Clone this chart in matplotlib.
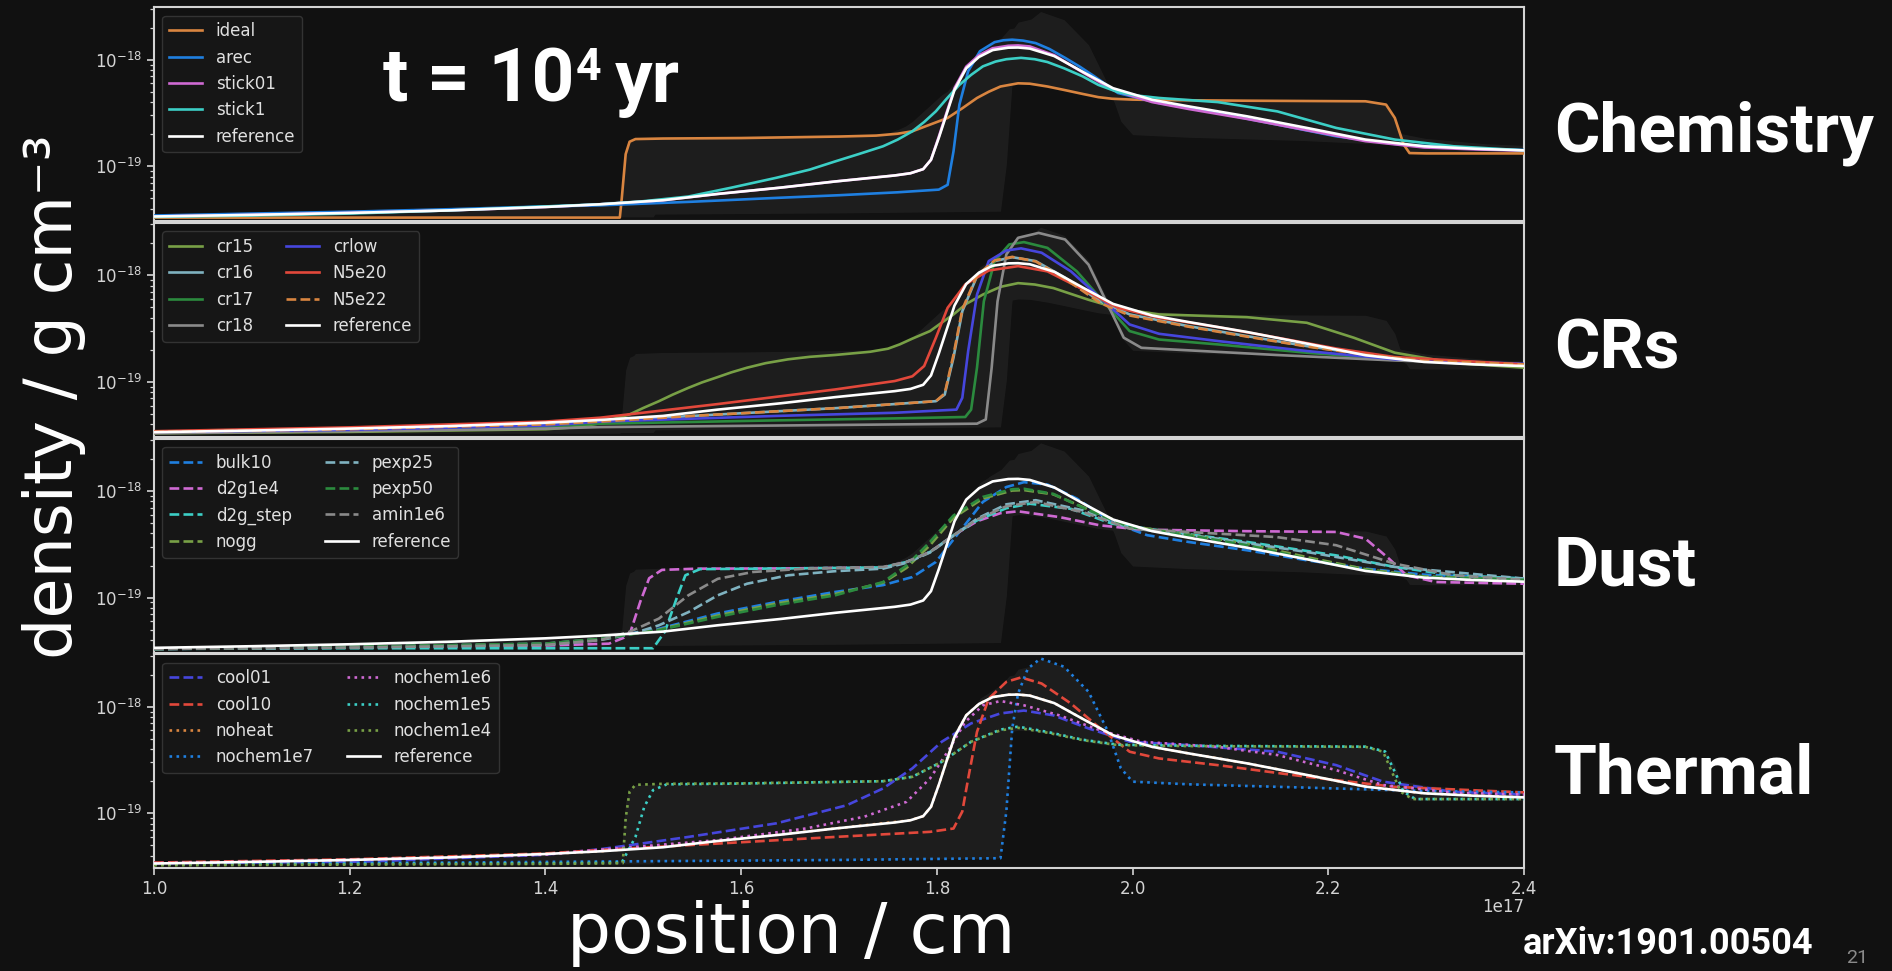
import numpy as np
import matplotlib
matplotlib.use('Agg')
import matplotlib.pyplot as plt
from matplotlib.ticker import FuncFormatter, NullFormatter

RHO = 1e-19   # density unit of the tables (g cm^-3)
POS = 1e17    # position unit of the tables (cm)

# (position, density) pairs, t = 1e4 yr

# chemistry runs
ideal = [(1.0, 0.33), (1.2, 0.33), (1.4, 0.33), (1.476, 0.33), (1.478, 0.5), (1.482, 1.3),
         (1.486, 1.7), (1.492, 1.80), (1.52, 1.82), (1.6, 1.84), (1.70, 1.90), (1.738, 1.94),
         (1.76, 2.02), (1.775, 2.13), (1.79, 2.4), (1.811, 2.84), (1.826, 3.5), (1.841, 4.37),
         (1.853, 5.0), (1.865, 5.6), (1.883, 6.0), (1.895, 5.95), (1.913, 5.6), (1.93, 5.2),
         (1.949, 4.77), (1.965, 4.45), (1.979, 4.3), (2.0, 4.22), (2.027, 4.18), (2.117, 4.12),
         (2.238, 4.07), (2.259, 3.79), (2.268, 2.84), (2.277, 1.6), (2.283, 1.33), (2.3, 1.32),
         (2.4, 1.32)]
arec = [(1.0, 0.345), (1.1, 0.36), (1.2, 0.375), (1.3, 0.395), (1.4, 0.42), (1.456, 0.43),
        (1.55, 0.465), (1.636, 0.505), (1.70, 0.535), (1.76, 0.57), (1.802, 0.604), (1.811, 0.67),
        (1.817, 1.38), (1.823, 3.78), (1.832, 7.8), (1.844, 12.0), (1.859, 14.6), (1.868, 15.2),
        (1.877, 15.4), (1.888, 15.1), (1.901, 14.3), (1.915, 12.6), (1.931, 10.4), (1.946, 8.6),
        (1.961, 6.97), (1.985, 4.87), (2.027, 3.92), (2.087, 3.16), (2.148, 2.46), (2.208, 1.91),
        (2.268, 1.62), (2.328, 1.49), (2.4, 1.42)]
stick01 = [(1.0, 0.338), (1.1, 0.35), (1.2, 0.365), (1.3, 0.385), (1.4, 0.415), (1.456, 0.44),
           (1.52, 0.48), (1.576, 0.55), (1.64, 0.63), (1.696, 0.72), (1.757, 0.82), (1.773, 0.86),
           (1.786, 0.94), (1.794, 1.15), (1.802, 1.9), (1.81, 3.2), (1.818, 5.4), (1.83, 8.6),
           (1.843, 11.0), (1.857, 12.8), (1.873, 13.5), (1.883, 13.6), (1.895, 13.3), (1.92, 11.0),
           (1.95, 7.5), (1.98, 5.2), (2.02, 4.0), (2.057, 3.45), (2.117, 2.78), (2.178, 2.18),
           (2.238, 1.72), (2.298, 1.5), (2.35, 1.44), (2.4, 1.40)]
stick1 = [(1.0, 0.335), (1.1, 0.345), (1.2, 0.36), (1.3, 0.385), (1.4, 0.42), (1.456, 0.44),
          (1.5, 0.47), (1.546, 0.52), (1.59, 0.63), (1.636, 0.78), (1.67, 0.93), (1.696, 1.11),
          (1.72, 1.3), (1.745, 1.54), (1.76, 1.78), (1.775, 2.13), (1.787, 2.6), (1.799, 3.28),
          (1.81, 4.3), (1.823, 5.8), (1.835, 7.2), (1.847, 8.65), (1.86, 9.6), (1.871, 10.1),
          (1.886, 10.4), (1.9, 10.1), (1.913, 9.5), (1.93, 8.3), (1.949, 6.97), (1.965, 5.8),
          (1.985, 4.97), (2.005, 4.6), (2.027, 4.37), (2.087, 4.0), (2.148, 3.27), (2.208, 2.29),
          (2.268, 1.78), (2.328, 1.54), (2.4, 1.41)]
reference = [(1.0, 0.338), (1.1, 0.35), (1.2, 0.365), (1.3, 0.385), (1.4, 0.415), (1.456, 0.44),
             (1.52, 0.48), (1.576, 0.55), (1.64, 0.63), (1.696, 0.72), (1.757, 0.82), (1.773, 0.86),
             (1.786, 0.94), (1.794, 1.15), (1.802, 1.85), (1.81, 3.1), (1.818, 5.2), (1.83, 8.3),
             (1.843, 10.6), (1.857, 12.3), (1.873, 12.95), (1.883, 13.0), (1.895, 12.7), (1.92, 10.8),
             (1.95, 7.6), (1.98, 5.4), (2.02, 4.2), (2.057, 3.65), (2.117, 2.94), (2.178, 2.29),
             (2.238, 1.78), (2.298, 1.54), (2.35, 1.46), (2.4, 1.41)]

# cosmic-ray runs
cr15 = [(1.0, 0.33), (1.2, 0.34), (1.4, 0.36), (1.43, 0.375), (1.456, 0.41), (1.47, 0.45),
        (1.486, 0.496), (1.50, 0.57), (1.516, 0.66), (1.53, 0.76), (1.546, 0.88), (1.56, 0.99),
        (1.576, 1.11), (1.59, 1.23), (1.606, 1.36), (1.625, 1.50), (1.648, 1.63), (1.67, 1.72),
        (1.696, 1.79), (1.732, 1.92), (1.75, 2.05), (1.762, 2.25), (1.775, 2.55), (1.793, 3.0),
        (1.805, 3.6), (1.817, 4.3), (1.83, 5.4), (1.847, 6.6), (1.865, 7.8), (1.883, 8.45),
        (1.90, 8.2), (1.919, 7.6), (1.955, 5.9), (1.985, 4.9), (2.027, 4.3), (2.117, 4.05),
        (2.178, 3.59), (2.226, 2.6), (2.268, 1.88), (2.328, 1.51), (2.4, 1.36)]
cr16 = [(1.0, 0.34), (1.2, 0.36), (1.4, 0.40), (1.456, 0.425), (1.55, 0.48), (1.636, 0.53),
        (1.70, 0.57), (1.757, 0.62), (1.799, 0.66), (1.808, 0.76), (1.817, 1.69), (1.826, 4.6),
        (1.841, 9.8), (1.859, 13.6), (1.877, 14.8), (1.901, 13.6), (1.931, 9.5), (1.967, 5.7),
        (1.997, 4.3), (2.057, 3.34), (2.117, 2.69), (2.178, 2.17), (2.238, 1.81), (2.298, 1.59),
        (2.4, 1.46)]
cr17 = [(1.0, 0.335), (1.2, 0.35), (1.4, 0.38), (1.456, 0.406), (1.636, 0.436), (1.757, 0.455),
        (1.829, 0.469), (1.835, 0.55), (1.841, 1.36), (1.848, 5.7), (1.859, 13.6), (1.874, 19.5),
        (1.889, 20.5), (1.913, 18.1), (1.943, 10.9), (1.973, 5.3), (1.997, 3.0), (2.027, 2.5),
        (2.087, 2.25), (2.178, 1.88), (2.268, 1.63), (2.4, 1.46)]
cr18 = [(1.0, 0.33), (1.2, 0.345), (1.4, 0.365), (1.456, 0.377), (1.636, 0.39), (1.841, 0.406),
        (1.85, 0.445), (1.856, 1.36), (1.862, 5.7), (1.871, 15.7), (1.883, 22.5), (1.904, 25.0),
        (1.931, 21.7), (1.955, 12.6), (1.973, 5.7), (1.991, 2.6), (2.009, 2.09), (2.057, 1.98),
        (2.147, 1.79), (2.268, 1.59), (2.4, 1.46)]
crlow = [(1.0, 0.34), (1.2, 0.355), (1.4, 0.39), (1.456, 0.424), (1.636, 0.48), (1.757, 0.514),
         (1.82, 0.55), (1.826, 0.71), (1.832, 1.95), (1.841, 6.6), (1.853, 13.6), (1.871, 17.1),
         (1.886, 17.9), (1.907, 16.3), (1.937, 10.9), (1.967, 6.15), (1.997, 3.46), (2.027, 2.83),
         (2.087, 2.42), (2.178, 1.95), (2.268, 1.63), (2.4, 1.48)]
N5e20 = [(1.0, 0.345), (1.2, 0.375), (1.4, 0.425), (1.456, 0.462), (1.576, 0.62), (1.696, 0.85),
         (1.757, 1.02), (1.775, 1.13), (1.787, 1.41), (1.799, 2.6), (1.811, 4.96), (1.829, 8.2),
         (1.853, 11.1), (1.883, 12.2), (1.913, 10.9), (1.949, 7.4), (1.985, 4.96), (2.027, 4.0),
         (2.087, 3.27), (2.148, 2.6), (2.208, 2.06), (2.268, 1.71), (2.4, 1.46)]
N5e22 = [(1.0, 0.34), (1.2, 0.36), (1.4, 0.40), (1.456, 0.425), (1.55, 0.48), (1.636, 0.53),
         (1.70, 0.57), (1.757, 0.62), (1.799, 0.66), (1.808, 0.78), (1.817, 1.8), (1.826, 4.8),
         (1.841, 10.0), (1.859, 13.8), (1.877, 14.9), (1.901, 13.5), (1.931, 9.3), (1.967, 5.5),
         (1.997, 4.2), (2.057, 3.3), (2.117, 2.66), (2.178, 2.15), (2.238, 1.8), (2.298, 1.58),
         (2.4, 1.46)]

# dust runs
bulk10 = [(1.0, 0.33), (1.2, 0.345), (1.4, 0.37), (1.456, 0.41), (1.48, 0.45), (1.516, 0.51),
          (1.576, 0.71), (1.636, 0.91), (1.696, 1.13), (1.745, 1.31), (1.775, 1.56), (1.799, 2.16),
          (1.823, 4.13), (1.847, 7.9), (1.871, 10.9), (1.889, 12.1), (1.913, 11.5), (1.943, 8.5),
          (1.979, 5.1), (2.015, 3.85), (2.057, 3.33), (2.117, 2.78), (2.178, 2.24), (2.238, 1.87),
          (2.298, 1.64), (2.4, 1.51)]
d2g1e4 = [(1.0, 0.33), (1.2, 0.34), (1.4, 0.355), (1.465, 0.37), (1.48, 0.42), (1.487, 0.48),
          (1.497, 0.92), (1.506, 1.52), (1.519, 1.82), (1.556, 1.87), (1.65, 1.88), (1.745, 1.92),
          (1.769, 2.16), (1.793, 2.68), (1.817, 3.84), (1.841, 5.2), (1.865, 6.2), (1.883, 6.45),
          (1.925, 5.7), (1.967, 4.76), (2.009, 4.34), (2.117, 4.2), (2.208, 4.13), (2.238, 3.57),
          (2.262, 2.32), (2.28, 1.62), (2.31, 1.4), (2.4, 1.35)]
d2g_step = [(1.0, 0.33), (1.2, 0.335), (1.4, 0.335), (1.51, 0.335), (1.522, 0.478), (1.534, 0.98),
            (1.543, 1.62), (1.558, 1.85), (1.65, 1.88), (1.745, 1.92), (1.769, 2.16), (1.793, 2.68),
            (1.817, 3.84), (1.841, 5.3), (1.871, 6.9), (1.895, 7.6), (1.937, 6.8), (1.979, 4.94),
            (2.027, 4.28), (2.117, 3.33), (2.208, 2.49), (2.268, 1.94), (2.328, 1.62), (2.4, 1.51)]
nogg = [(1.0, 0.33), (1.2, 0.345), (1.4, 0.37), (1.456, 0.41), (1.516, 0.50), (1.576, 0.68),
        (1.636, 0.88), (1.696, 1.08), (1.745, 1.38), (1.769, 1.9), (1.793, 3.1), (1.817, 5.6),
        (1.847, 8.5), (1.877, 10.1), (1.889, 10.2), (1.919, 9.3), (1.955, 6.7), (1.997, 4.7),
        (2.057, 3.9), (2.117, 3.2), (2.178, 2.4), (2.238, 1.85), (2.298, 1.58), (2.4, 1.48)]
pexp25 = [(1.0, 0.33), (1.2, 0.34), (1.4, 0.36), (1.456, 0.40), (1.486, 0.45), (1.516, 0.55),
          (1.546, 0.73), (1.576, 1.05), (1.606, 1.35), (1.648, 1.62), (1.696, 1.77), (1.745, 1.87),
          (1.769, 2.12), (1.793, 2.65), (1.817, 3.8), (1.841, 5.5), (1.871, 7.5), (1.901, 8.2),
          (1.949, 6.6), (1.997, 4.5), (2.087, 3.57), (2.178, 2.68), (2.268, 1.94), (2.4, 1.51)]
pexp50 = [(1.0, 0.33), (1.2, 0.345), (1.4, 0.37), (1.456, 0.41), (1.516, 0.495), (1.576, 0.66),
          (1.636, 0.85), (1.696, 1.05), (1.745, 1.4), (1.769, 2.0), (1.793, 3.33), (1.817, 5.9),
          (1.847, 8.8), (1.877, 10.4), (1.889, 10.5), (1.919, 9.4), (1.955, 6.6), (1.997, 4.6),
          (2.057, 3.85), (2.117, 3.1), (2.178, 2.32), (2.238, 1.81), (2.298, 1.56), (2.4, 1.47)]
amin1e6 = [(1.0, 0.33), (1.2, 0.34), (1.4, 0.36), (1.456, 0.40), (1.486, 0.478), (1.516, 0.636),
           (1.546, 1.05), (1.576, 1.5), (1.612, 1.74), (1.666, 1.87), (1.745, 1.94), (1.769, 2.16),
           (1.793, 2.68), (1.817, 3.84), (1.841, 5.4), (1.871, 7.2), (1.901, 7.9), (1.949, 6.35),
           (1.997, 4.43), (2.057, 4.13), (2.147, 3.7), (2.208, 3.1), (2.268, 2.08), (2.328, 1.62),
           (2.4, 1.47)]

# thermal runs
cool01 = [(1.0, 0.34), (1.214, 0.352), (1.396, 0.407), (1.456, 0.46), (1.488, 0.505), (1.546, 0.60),
          (1.636, 0.805), (1.708, 1.19), (1.745, 1.71), (1.775, 2.64), (1.805, 4.69), (1.835, 6.97),
          (1.865, 8.65), (1.889, 9.2), (1.919, 8.3), (1.955, 6.25), (1.997, 4.69), (2.057, 4.36),
          (2.148, 3.78), (2.208, 2.83), (2.256, 1.98), (2.328, 1.59), (2.4, 1.5)]
cool10 = [(1.0, 0.345), (1.2, 0.37), (1.4, 0.42), (1.456, 0.453), (1.576, 0.52), (1.696, 0.60),
          (1.793, 0.67), (1.817, 0.72), (1.826, 1.04), (1.832, 2.12), (1.841, 5.8), (1.853, 11.9),
          (1.871, 17.1), (1.886, 18.8), (1.907, 16.5), (1.937, 10.7), (1.967, 6.25), (1.997, 3.78),
          (2.027, 3.27), (2.087, 2.83), (2.178, 2.2), (2.268, 1.77), (2.4, 1.57)]
noheat = [(1.0, 0.338), (1.2, 0.365), (1.4, 0.415), (1.456, 0.44), (1.576, 0.55), (1.696, 0.72),
          (1.773, 0.86), (1.786, 0.94), (1.794, 1.15), (1.802, 1.85), (1.81, 3.1), (1.818, 5.2),
          (1.83, 8.3), (1.843, 10.6), (1.857, 12.3), (1.873, 12.95), (1.883, 13.0), (1.895, 12.7),
          (1.92, 10.8), (1.95, 7.6), (1.98, 5.4), (2.02, 4.2), (2.057, 3.65), (2.117, 2.94),
          (2.178, 2.29), (2.238, 1.78), (2.298, 1.54), (2.4, 1.41)]
nochem1e7 = [(1.0, 0.335), (1.3, 0.345), (1.5, 0.355), (1.7, 0.365), (1.865, 0.379), (1.871, 1.04),
             (1.877, 6.25), (1.883, 13.3), (1.893, 22.8), (1.906, 28.3), (1.93, 23.7), (1.955, 13.8),
             (1.975, 5.8), (1.988, 2.64), (2.0, 1.98), (2.057, 1.87), (2.178, 1.74), (2.298, 1.62),
             (2.4, 1.57)]
nochem1e6 = [(1.0, 0.34), (1.2, 0.365), (1.4, 0.41), (1.456, 0.455), (1.576, 0.56), (1.666, 0.72),
             (1.726, 0.93), (1.769, 1.28), (1.793, 2.12), (1.811, 3.78), (1.829, 7.2), (1.847, 10.3),
             (1.865, 11.3), (1.889, 10.3), (1.925, 8.3), (1.967, 6.0), (2.009, 4.69), (2.087, 4.2),
             (2.148, 3.52), (2.208, 2.54), (2.256, 1.84), (2.328, 1.56), (2.4, 1.5)]
nochem1e5 = [(1.0, 0.33), (1.2, 0.335), (1.4, 0.34), (1.478, 0.345), (1.492, 0.60), (1.501, 1.15),
             (1.510, 1.65), (1.524, 1.87), (1.60, 1.90), (1.745, 2.0), (1.775, 2.2), (1.805, 3.04),
             (1.835, 4.69), (1.865, 6.1), (1.883, 6.5), (1.913, 5.8), (1.949, 4.9), (1.985, 4.4),
             (2.057, 4.3), (2.238, 4.22), (2.258, 3.8), (2.268, 2.45), (2.277, 1.59), (2.289, 1.36),
             (2.4, 1.36)]
nochem1e4 = [(1.0, 0.325), (1.2, 0.33), (1.4, 0.335), (1.479, 0.34), (1.482, 0.9), (1.486, 1.6),
             (1.492, 1.85), (1.52, 1.89), (1.6, 1.91), (1.745, 2.0), (1.775, 2.2), (1.805, 3.04),
             (1.835, 4.69), (1.865, 6.0), (1.883, 6.34), (1.913, 5.7), (1.949, 4.86), (1.985, 4.36),
             (2.057, 4.27), (2.238, 4.2), (2.256, 3.78), (2.265, 2.45), (2.274, 1.59), (2.286, 1.36),
             (2.4, 1.36)]

BG = '#111111'
FG = '#d4d4d4'
orange, blue, orchid, teal, olive = '#d98540', '#1f7fe0', '#cf6ad3', '#3ccfc6', '#78a046'
slate, green, grey, indigo, red = '#7fb2c0', '#2b8a3e', '#8a8a8a', '#4646dd', '#e2483b'

ref_run = (reference, 'reference', 'white', '-')
panels = [
    ('Chemistry', 1, [(ideal, 'ideal', orange, '-'), (arec, 'arec', blue, '-'),
                      (stick01, 'stick01', orchid, '-'), (stick1, 'stick1', teal, '-'), ref_run]),
    ('CRs', 2, [(cr15, 'cr15', olive, '-'), (cr16, 'cr16', slate, '-'), (cr17, 'cr17', green, '-'),
                (cr18, 'cr18', grey, '-'), (crlow, 'crlow', indigo, '-'), (N5e20, 'N5e20', red, '-'),
                (N5e22, 'N5e22', orange, '--'), ref_run]),
    ('Dust', 2, [(bulk10, 'bulk10', blue, '--'), (d2g1e4, 'd2g1e4', orchid, '--'),
                 (d2g_step, 'd2g_step', teal, '--'), (nogg, 'nogg', olive, '--'),
                 (pexp25, 'pexp25', slate, '--'), (pexp50, 'pexp50', green, '--'),
                 (amin1e6, 'amin1e6', grey, '--'), ref_run]),
    ('Thermal', 2, [(cool01, 'cool01', indigo, '--'), (cool10, 'cool10', red, '--'),
                    (noheat, 'noheat', orange, ':'), (nochem1e7, 'nochem1e7', blue, ':'),
                    (nochem1e6, 'nochem1e6', orchid, ':'), (nochem1e5, 'nochem1e5', teal, ':'),
                    (nochem1e4, 'nochem1e4', olive, ':'), ref_run]),
]

# shaded band: spread of every run
grid = np.linspace(1.0, 2.4, 2801)
spread = []
for _, _, runs in panels:
    for data, _, _, _ in runs:
        p, r = np.array(data).T
        spread.append(np.interp(grid, p, np.log10(r)))
spread = np.array(spread)
band_lo = 10 ** spread.min(axis=0) * RHO
band_hi = 10 ** spread.max(axis=0) * RHO

fig = plt.figure(figsize=(18.92, 9.71), dpi=100, facecolor=BG)
gs = fig.add_gridspec(4, 1, left=0.0814, right=0.8055, top=0.9925, bottom=0.1058, hspace=0.008)
label_base = [0.8435, 0.621, 0.3975, 0.1823]

ax0 = None
for i, (name, ncol, runs) in enumerate(panels):
    ax = fig.add_subplot(gs[i], sharex=ax0)
    ax0 = ax0 or ax
    ax.set_facecolor(BG)
    ax.fill_between(grid * POS, band_lo, band_hi, color='white', alpha=0.05, lw=0, zorder=1)
    for data, label, color, ls in runs:
        p, r = np.array(data).T
        ax.plot(p * POS, r * RHO, color=color, ls=ls, lw=1.9, label=label, zorder=3)
    ax.set_yscale('log')
    ax.set_ylim(3.05e-20, 3.1e-18)
    ax.set_xlim(1.0e17, 2.4e17)
    ax.set_yticks([1e-19, 1e-18])
    ax.yaxis.set_minor_formatter(NullFormatter())
    for s in ax.spines.values():
        s.set_color(FG)
        s.set_linewidth(1.5)
    ax.tick_params(which='both', colors=FG, labelsize=12, direction='out')
    ax.tick_params(which='major', length=5, width=1.2)
    ax.tick_params(which='minor', length=3, width=0.9)
    if i < 3:
        ax.tick_params(labelbottom=False)
    leg = ax.legend(loc='upper left', ncol=ncol, fontsize=12, facecolor='#161616',
                    edgecolor='#333333', framealpha=1, labelcolor='#e0e0e0', columnspacing=2.0)
    leg.get_frame().set_linewidth(1.0)
    fig.text(0.8214, label_base[i], name, family='Roboto', weight='bold', fontsize=50,
             color='white', va='baseline')

# x axis in units of 1e17 cm, scale written under the last tick
ax.xaxis.set_major_formatter(FuncFormatter(lambda v, _: f'{v / POS:.1f}'))
fig.text(0.8055, 0.0659, '1e17', fontsize=12, color=FG, ha='right', va='center')

t1 = fig.text(0.2022, 0.8953, 't = 10', family='Roboto', weight='bold', fontsize=54,
              color='white', va='baseline')
t2 = fig.add_artist(matplotlib.text.Annotation(
    '4', xy=(1, 1), xycoords=t1, xytext=(1, 0), textcoords='offset points', ha='left', va='top',
    family='Roboto', weight='bold', fontsize=32, color='white'))
fig.add_artist(matplotlib.text.Annotation(
    'yr', xy=(1, 0.8953), xycoords=(t2, 'figure fraction'), xytext=(10, 0),
    textcoords='offset points', ha='left', va='baseline', family='Roboto', weight='bold',
    fontsize=54, color='white'))

fig.text(0.418, 0.0185, 'position / cm', fontsize=50, color='white', ha='center', va='baseline')
fig.text(0.0287, 0.592, 'density / g cm⁻³', rotation=90, fontsize=47, color='white',
         ha='center', va='center')
fig.text(0.805, 0.0175, 'arXiv:1901.00504', family='Roboto', weight='bold', fontsize=26,
         color='white', va='baseline')
fig.text(0.9757, 0.0082, '21', family='Roboto', fontsize=14, color='#8a8a8a', va='baseline')

fig.savefig('out.png', dpi=100, facecolor=BG)
